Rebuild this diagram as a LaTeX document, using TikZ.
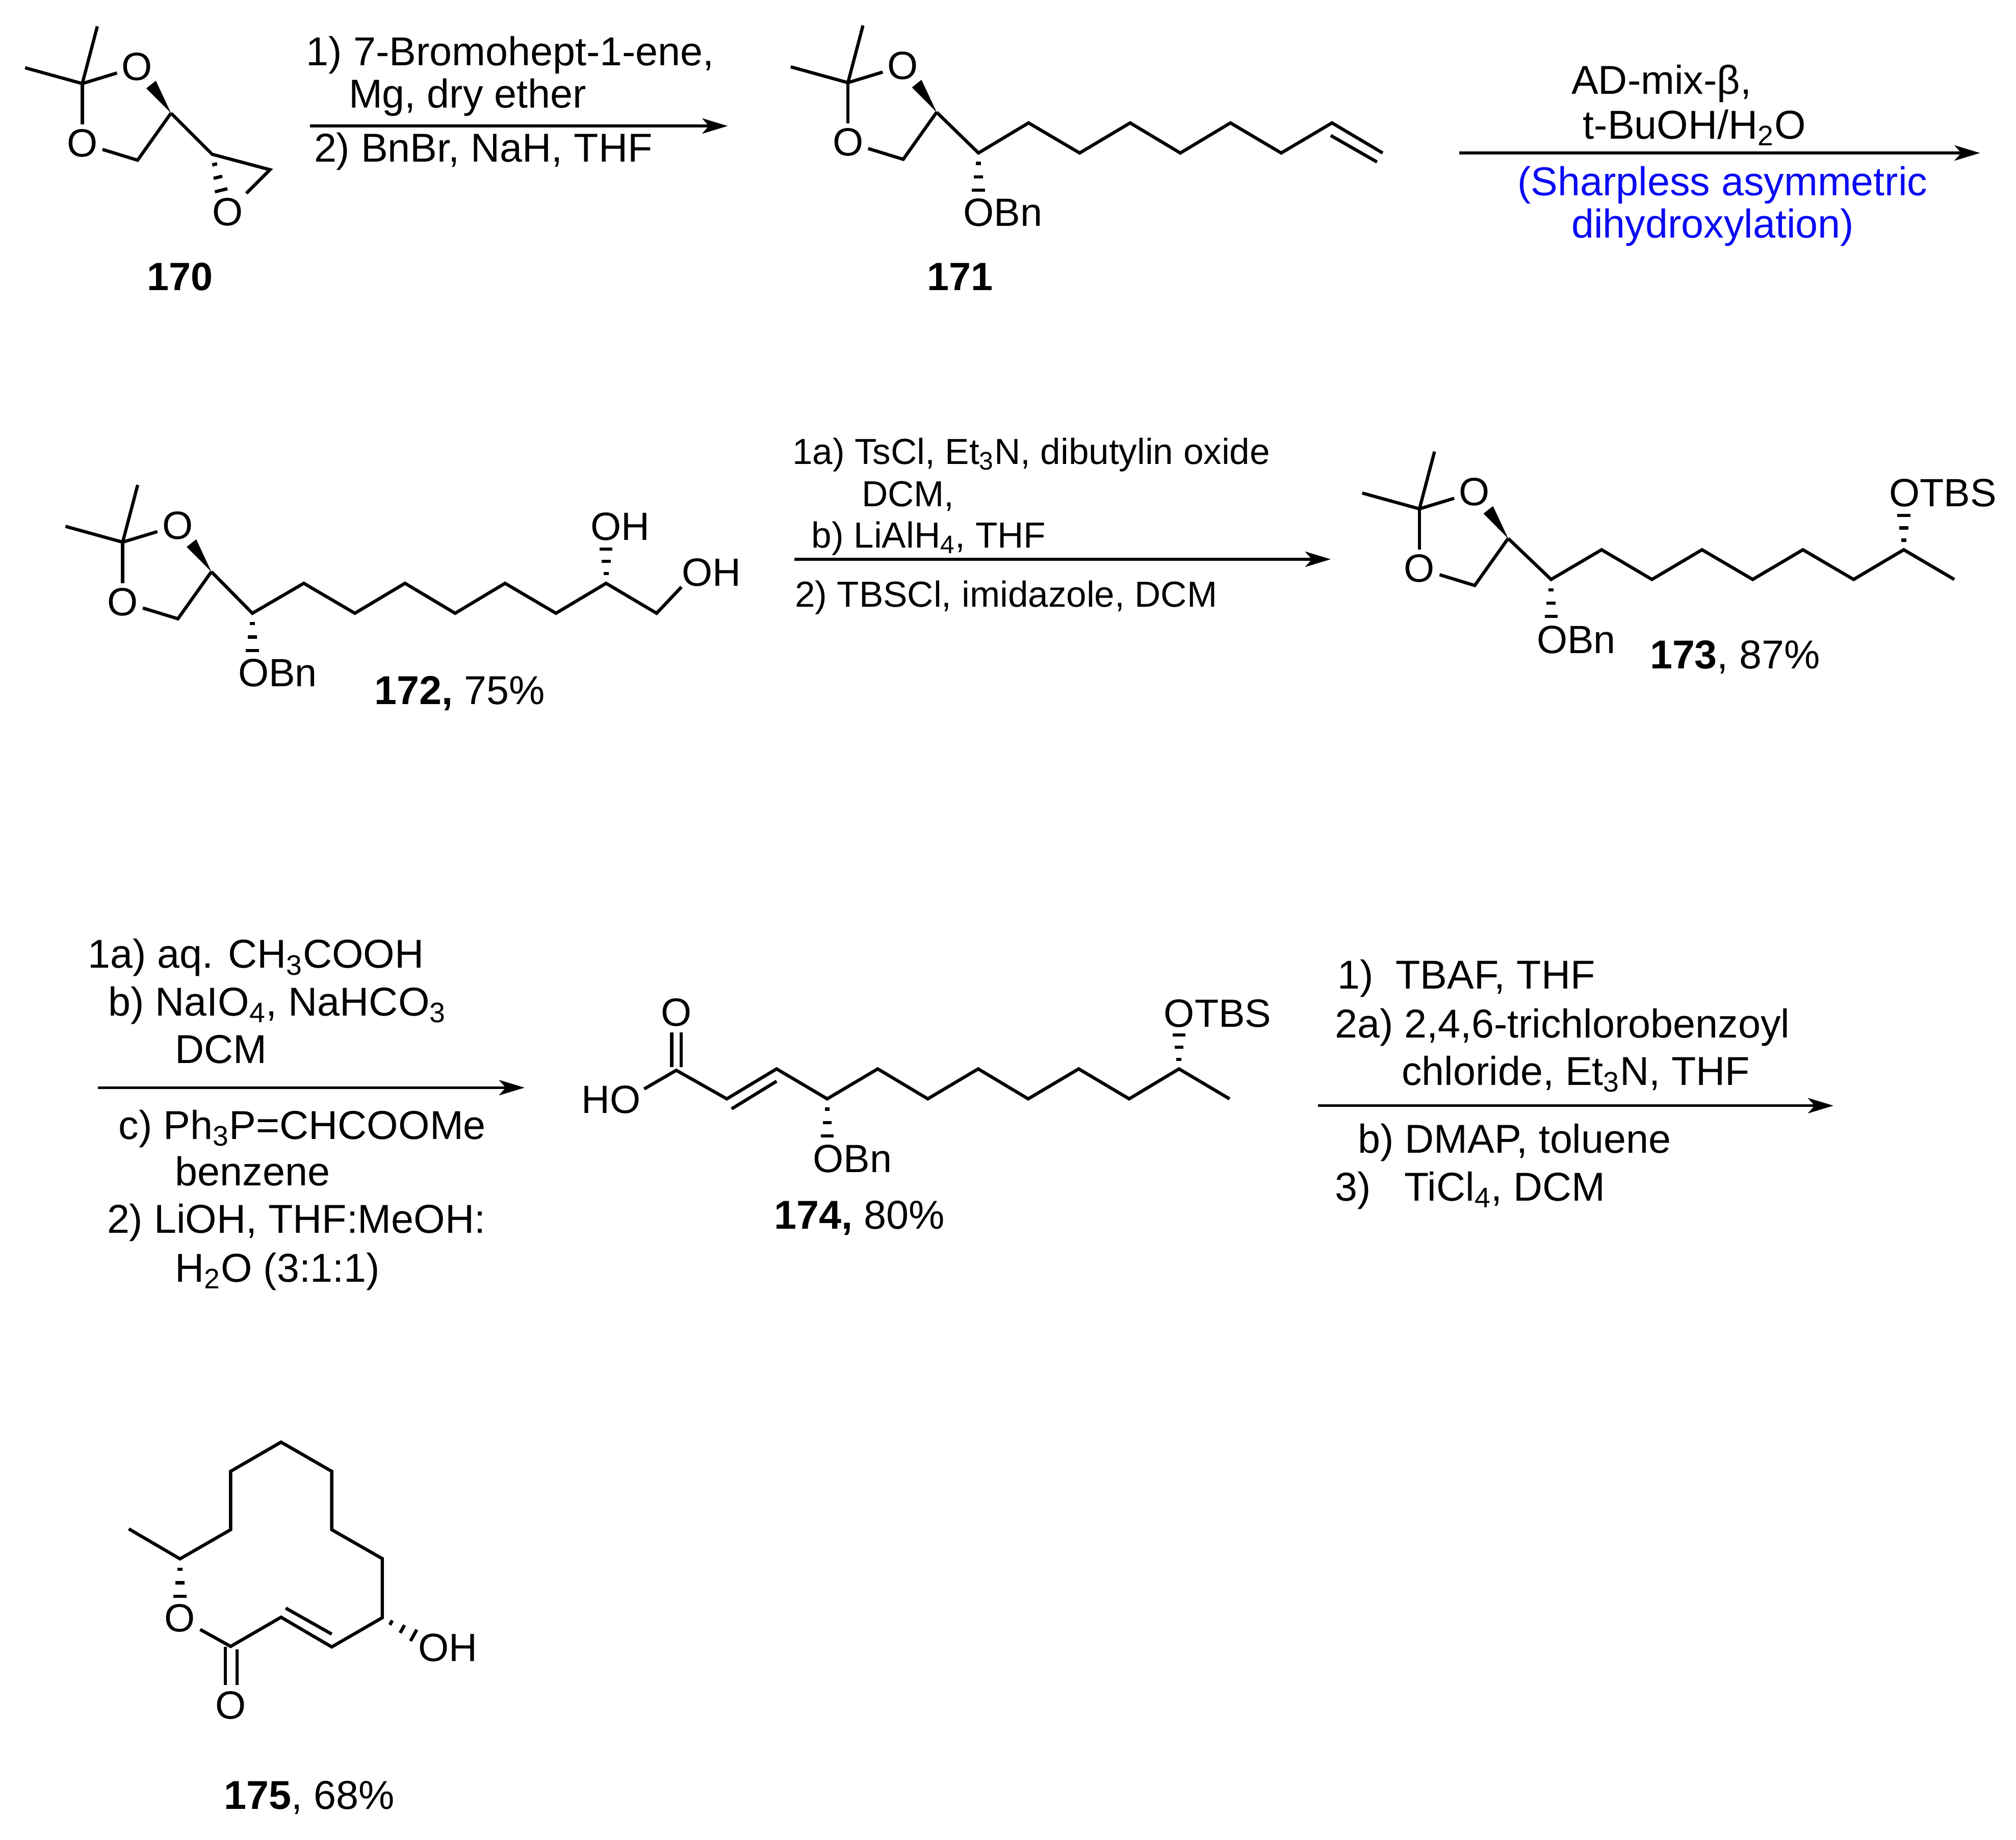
\documentclass[tikz,border=0pt]{standalone}
\usepackage{fontspec}
\setmainfont{Liberation Sans}
\usetikzlibrary{calc,arrows.meta}
\definecolor{noteblue}{RGB}{10,10,245}
\tikzset{
  bond/.style={line width=1.8pt},
  hashline/.style={line width=1.8pt},
  rxnarrow/.style={line width=1.6pt,-{Stealth[length=5mm,width=3mm,inset=1.3mm]}},
  atom/.style={font=\fontsize{22}{24}\selectfont,inner sep=2.5pt},
  txt/.style={font=\fontsize{22}{24}\selectfont,inner sep=0pt,anchor=base west},
  reag/.style={txt,font=\fontsize{22.5}{24}\selectfont},
  reagsm/.style={txt,font=\fontsize{20.2}{24}\selectfont},
  note/.style={reag,text=noteblue}
}
\newcommand{\hashbond}[2]{%
  \foreach \hp/\hw in {0.28/1.4,0.64/2.5,1/3.6}{
    \draw[hashline] let \p1=($(#2)-(#1)$), \n1={atan2(\y1,\x1)} in
      ($(#1)!\hp!(#2)$) ++(\n1+90:\hw pt) -- ++(\n1-90:2*\hw pt);
  }}
\newcommand{\acetonide}[3]{%
  \begin{scope}[shift={(#2,#3)}]
    \coordinate (q#1) at (0,0);
    \coordinate (mt#1) at (11.7,-44.5);
    \coordinate (ml#1) at (-44.5,-12.3);
    \node[atom] (ot#1) at (42.7,-13) {O};
    \node[atom] (ob#1) at (0,46.4) {O};
    \coordinate (r#1) at (43,59.6);
    \coordinate (s#1) at (69,23);
    \coordinate (wa#1) at (57.2,-2.2);
    \coordinate (wb#1) at (49.8,3.7);
  \end{scope}
  \draw[bond] (mt#1) -- (q#1) -- (ml#1);
  \draw[bond] (q#1) -- (ot#1);
  \draw[bond] (q#1) -- (ob#1);
  \draw[bond] (ob#1) -- (r#1) -- (s#1);
  \fill (s#1) -- (wa#1) -- (wb#1) -- cycle;
}
\begin{document}
\begin{tikzpicture}[x=0.2522mm,y=-0.2522mm]
\useasboundingbox (0,0) rectangle (1568,1431);
\fill[white] (0,0) rectangle (1568,1431);

\acetonide{a}{64}{65}
\coordinate (ep1) at (165,120);
\coordinate (ep2) at (210,132);
\coordinate (eph) at (172,148);
\node[atom] (epo) at (177,165) {O};
\draw[bond] (sa) -- (ep1) -- (ep2) -- (epo);
\hashbond{ep1}{eph}
\node[txt] (n170) at (114,226) {\textbf{170}};
\node[reag] (r1a) at (238,51) {1) 7-Bromohept-1-ene,};
\node[reag] (r1b) at (271,84) {Mg, dry ether};
\node[reag] (r1c) at (244,126) {2) BnBr, NaH, THF};
\coordinate (a1s) at (241,98);
\coordinate (a1e) at (566,98);
\draw[rxnarrow] (a1s) -- (a1e);

\acetonide{b}{659.5}{64.3}
\foreach \k/\cx/\cy in {1/761/119,2/800/95.6,3/839.7/119,4/879/95.6,5/918/119,6/957/95.6,7/996.5/119,8/1036/95.6,9/1075.4/119}{
  \coordinate (b\k) at (\cx,\cy);
}
\draw[bond] (sb) -- (b1) -- (b2) -- (b3) -- (b4) -- (b5) -- (b6) -- (b7) -- (b8) -- (b9);
\coordinate (bd1) at (1035,105.4);
\coordinate (bd2) at (1071,126);
\draw[bond] (bd1) -- (bd2);
\coordinate (bh) at (761,148);
\hashbond{b1}{bh}
\node[txt] (obn171) at (749,176) {OBn};
\node[txt] (n171) at (721,226) {\textbf{171}};
\node[reag] (r2a) at (1222,73) {AD-mix-β,};
\node[reag] (r2b) at (1231,108) {t-BuOH/H\textsubscript{2}O};
\node[note] (r2c) at (1180,152) {(Sharpless asymmetric};
\node[note] (r2d) at (1222,185) {dihydroxylation)};
\coordinate (a2s) at (1135,119);
\coordinate (a2e) at (1540,119);
\draw[rxnarrow] (a2s) -- (a2e);

\acetonide{c}{95.4}{421.7}
\foreach \k/\cx/\cy in {1/196.3/477,2/236.3/453.7,3/276/477,4/315/453.7,5/354/477,6/392.8/453.7,7/432.4/477,8/471.4/453.7,9/510.7/477}{
  \coordinate (c\k) at (\cx,\cy);
}
\node[txt] (oh172a) at (459,420) {OH};
\node[txt] (oh172b) at (530,456) {OH};
\draw[bond] (sc) -- (c1) -- (c2) -- (c3) -- (c4) -- (c5) -- (c6) -- (c7) -- (c8) -- (c9) -- (oh172b.south west);
\coordinate (ch1) at (196.3,506);
\coordinate (ch2) at (471.4,427);
\hashbond{c1}{ch1}
\hashbond{c8}{ch2}
\node[txt] (obn172) at (185,534) {OBn};
\node[reag] (n172) at (291,548) {\textbf{172,} 75\%};
\node[reagsm] (r3a) at (616,361) {1a) TsCl, Et\textsubscript{3}N, dibutylin oxide};
\node[reagsm] (r3b) at (670,394) {DCM,};
\node[reagsm] (r3c) at (631,426) {b) LiAlH\textsubscript{4}, THF};
\node[reagsm] (r3d) at (618,472) {2) TBSCl, imidazole, DCM};
\coordinate (a3s) at (618,435);
\coordinate (a3e) at (1035,435);
\draw[rxnarrow] (a3s) -- (a3e);

\acetonide{d}{1104}{395.8}
\foreach \k/\cx/\cy in {1/1206.4/450.7,2/1245.7/427.6,3/1284.8/450.7,4/1323.8/427.6,5/1363.2/450.7,6/1402.3/427.6,7/1441.7/450.7,8/1480.7/427.6,9/1520/450.7}{
  \coordinate (d\k) at (\cx,\cy);
}
\draw[bond] (sd) -- (d1) -- (d2) -- (d3) -- (d4) -- (d5) -- (d6) -- (d7) -- (d8) -- (d9);
\coordinate (dh1) at (1206.4,479.5);
\coordinate (dh2) at (1480.7,401);
\hashbond{d1}{dh1}
\hashbond{d8}{dh2}
\node[txt] (otbs173) at (1469,394) {OTBS};
\node[txt] (obn173) at (1195,508) {OBn};
\node[reag] (n173) at (1283,520) {\textbf{173}, 87\%};

\node[reag] (r4a) at (68,753) {1a) aq. CH\textsubscript{3}COOH};
\node[reag] (r4b) at (84,790) {b) NaIO\textsubscript{4}, NaHCO\textsubscript{3}};
\node[reag] (r4c) at (136,827) {DCM};
\node[reag] (r4d) at (92,886) {c) Ph\textsubscript{3}P=CHCOOMe};
\node[reag] (r4e) at (136,922) {benzene};
\node[reag] (r4f) at (83,959) {2) LiOH, THF:MeOH:};
\node[reag] (r4g) at (136,997) {H\textsubscript{2}O (3:1:1)};
\coordinate (a4s) at (76,846);
\coordinate (a4e) at (408,846);
\draw[rxnarrow] (a4s) -- (a4e);

\foreach \k/\cx/\cy in {1/526/832.5,2/565.3/854.7,3/604/831.4,4/643.4/854.7,5/682.7/831.4,6/721.6/854.7,7/760.8/831.4,8/799.7/854.7,9/839/831.4,10/878.2/854.7,11/917/831.4,12/956.3/854.7}{
  \coordinate (e\k) at (\cx,\cy);
}
\node[atom] (eo) at (526,787.5) {O};
\node[txt] (ho174) at (452,866) {HO};
\coordinate (eho) at (501,847);
\draw[bond] (eho) -- (e1) -- (e2) -- (e3) -- (e4) -- (e5) -- (e6) -- (e7) -- (e8) -- (e9) -- (e10) -- (e11) -- (e12);
\coordinate (eda) at (522.4,803);
\coordinate (edb) at (522.4,830);
\coordinate (edc) at (529.7,803);
\coordinate (edd) at (529.7,830);
\draw[bond] (eda) -- (edb);
\draw[bond] (edc) -- (edd);
\coordinate (ede) at (604,841);
\coordinate (edf) at (569,862.5);
\draw[bond] (ede) -- (edf);
\coordinate (eh1) at (643.4,883.5);
\coordinate (eh2) at (917,805);
\hashbond{e4}{eh1}
\hashbond{e11}{eh2}
\node[txt] (obn174) at (632,912) {OBn};
\node[txt] (otbs174) at (905,799) {OTBS};
\node[reag] (n174) at (602,956) {\textbf{174,} 80\%};

\node[reag] (r5a) at (1040,769) {1)\ \ TBAF, THF};
\node[reag] (r5b) at (1038,807) {2a) 2,4,6-trichlorobenzoyl};
\node[reag] (r5c) at (1090,844) {chloride, Et\textsubscript{3}N, THF};
\node[reag] (r5d) at (1056,897) {b) DMAP, toluene};
\node[reag] (r5e) at (1038,934) {3)\ \ \ TiCl\textsubscript{4}, DCM};
\coordinate (a5s) at (1025,860);
\coordinate (a5e) at (1426,860);
\draw[rxnarrow] (a5s) -- (a5e);

\foreach \k/\cx/\cy in {1/100.2/1189.2,2/140/1212.5,3/179.4/1189.8,4/179.4/1144.4,5/218.6/1121.7,6/258/1144.4,7/258/1189.8,8/297.3/1212.3,9/297.3/1258.3,10/258/1281,11/218.6/1257.9,12/179.4/1280.6}{
  \coordinate (f\k) at (\cx,\cy);
}
\node[atom] (fo) at (140,1258.7) {O};
\node[atom] (fco) at (179.4,1326.3) {O};
\draw[bond] (f1) -- (f2) -- (f3) -- (f4) -- (f5) -- (f6) -- (f7) -- (f8) -- (f9) -- (f10) -- (f11) -- (f12) -- (fo);
\coordinate (fda) at (222.2,1250.8);
\coordinate (fdb) at (258,1271);
\draw[bond] (fda) -- (fdb);
\coordinate (fdc) at (175.3,1281);
\coordinate (fdd) at (175.3,1310.6);
\coordinate (fde) at (184.5,1283);
\coordinate (fdf) at (184.5,1310.6);
\draw[bond] (fdc) -- (fdd);
\draw[bond] (fde) -- (fdf);
\coordinate (fh1) at (140,1241.5);
\coordinate (fh2) at (321.7,1272);
\hashbond{f2}{fh1}
\hashbond{f9}{fh2}
\node[txt] (oh175) at (325,1292) {OH};
\node[reag] (n175) at (174,1407) {\textbf{175}, 68\%};
\end{tikzpicture}
\end{document}
